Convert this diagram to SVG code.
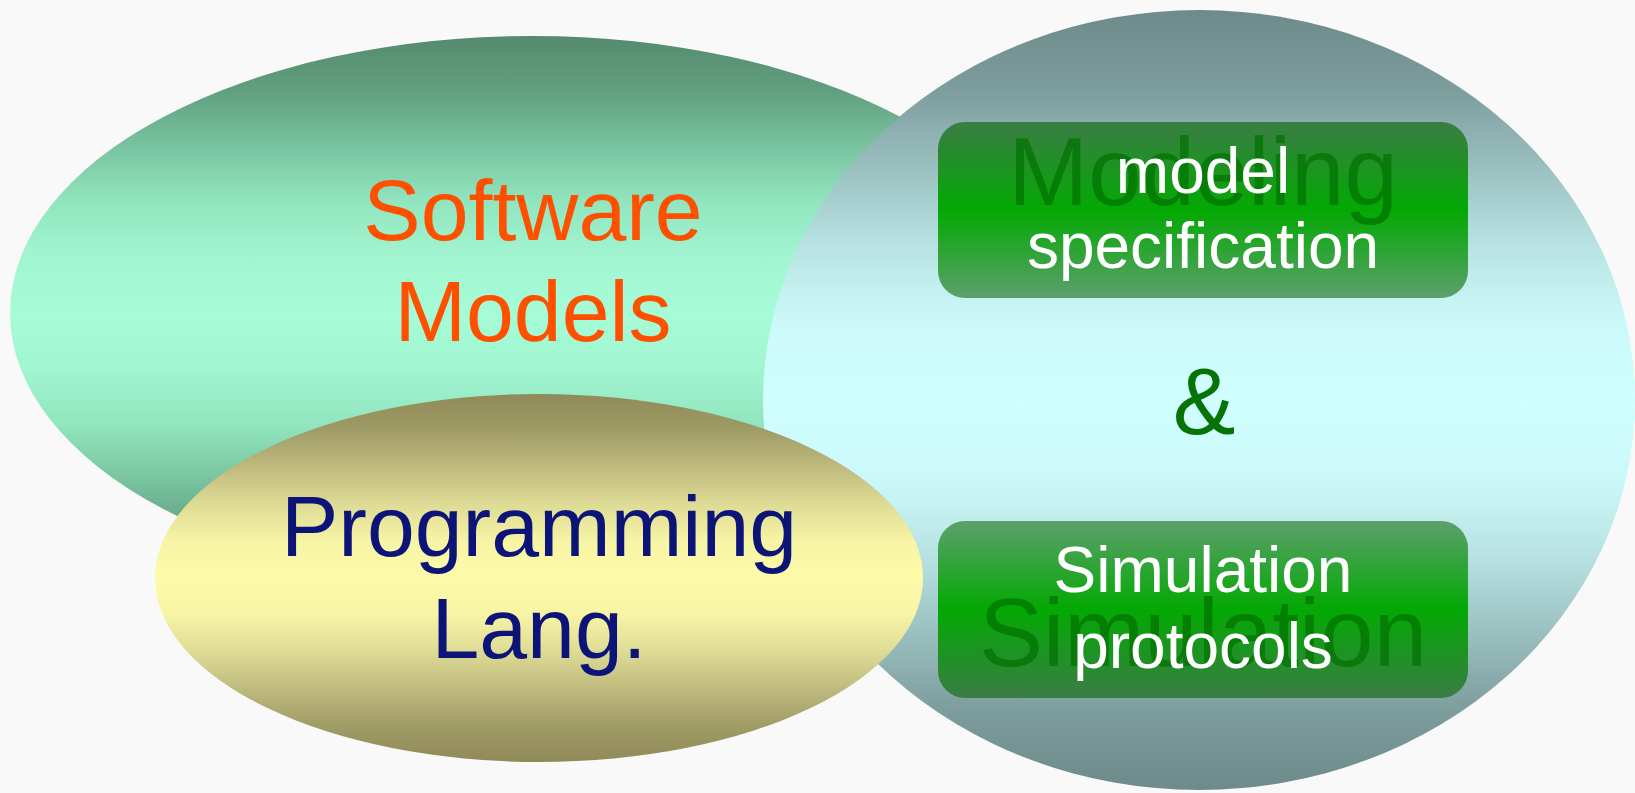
<svg xmlns="http://www.w3.org/2000/svg" width="1635" height="793" viewBox="0 0 1635 793">
  <defs>
    <linearGradient id="gLeft" x1="0" y1="0" x2="0" y2="1">
      <stop offset="0" stop-color="#558a6e"/>
      <stop offset="0.1" stop-color="#61a07f"/>
      <stop offset="0.2" stop-color="#79c3a1"/>
      <stop offset="0.3" stop-color="#91e5bf"/>
      <stop offset="0.4" stop-color="#a1f6d1"/>
      <stop offset="0.5" stop-color="#a6fcd6"/>
      <stop offset="0.6" stop-color="#a1f6d1"/>
      <stop offset="0.7" stop-color="#91e5bf"/>
      <stop offset="0.8" stop-color="#79c3a1"/>
      <stop offset="0.9" stop-color="#61a07f"/>
      <stop offset="1" stop-color="#558a6e"/>
    </linearGradient>
    <linearGradient id="gRight" x1="0" y1="0" x2="0" y2="1">
      <stop offset="0" stop-color="#6e8a8a"/>
      <stop offset="0.1" stop-color="#7d9c9c"/>
      <stop offset="0.2" stop-color="#9abfbf"/>
      <stop offset="0.3" stop-color="#b8e2e2"/>
      <stop offset="0.4" stop-color="#cbf9f9"/>
      <stop offset="0.5" stop-color="#d0ffff"/>
      <stop offset="0.6" stop-color="#cbf9f9"/>
      <stop offset="0.7" stop-color="#b8e2e2"/>
      <stop offset="0.8" stop-color="#9abfbf"/>
      <stop offset="0.9" stop-color="#7d9c9c"/>
      <stop offset="1" stop-color="#6e8a8a"/>
    </linearGradient>
    <linearGradient id="gYellow" x1="0" y1="0" x2="0" y2="1">
      <stop offset="0" stop-color="#8f8a58"/>
      <stop offset="0.1" stop-color="#a09c66"/>
      <stop offset="0.2" stop-color="#bfbb7e"/>
      <stop offset="0.3" stop-color="#dedb96"/>
      <stop offset="0.4" stop-color="#f7f4a5"/>
      <stop offset="0.5" stop-color="#fdfba8"/>
      <stop offset="0.6" stop-color="#f7f4a5"/>
      <stop offset="0.7" stop-color="#dedb96"/>
      <stop offset="0.8" stop-color="#bfbb7e"/>
      <stop offset="0.9" stop-color="#a09c66"/>
      <stop offset="1" stop-color="#8f8a58"/>
    </linearGradient>
    <linearGradient id="gBoxTop" x1="0" y1="0" x2="0" y2="1">
      <stop offset="0" stop-color="#3a7c45"/>
      <stop offset="0.5" stop-color="#03a903"/>
      <stop offset="1" stop-color="#5e9f6d"/>
    </linearGradient>
    <linearGradient id="gBoxBot" x1="0" y1="0" x2="0" y2="1">
      <stop offset="0" stop-color="#5e9f6d"/>
      <stop offset="0.5" stop-color="#03a903"/>
      <stop offset="1" stop-color="#3a7c45"/>
    </linearGradient>
  </defs>
  <style>
    text { font-family: "Liberation Sans", Arial, sans-serif; text-anchor: middle; }
    .big { font-size: 86px; }
    .orange { fill: #ff5000; }
    .navy { fill: #0c1478; }
    .ghost { font-size: 96px; fill: #007000; fill-opacity: 0.7; }
    .white { font-size: 64px; fill: #ffffff; }
    .amp { font-size: 94px; fill: #067306; }
  </style>
  <rect x="0" y="0" width="1635" height="793" fill="#f9f9f9"/>

  <g id="software-models">
    <ellipse cx="532" cy="313" rx="522" ry="277" fill="url(#gLeft)"/>
    <text class="big orange" x="533" y="240">Software</text>
    <text class="big orange" x="533" y="341">Models</text>
  </g>

  <g id="modeling-simulation">
    <ellipse cx="1199" cy="400" rx="436" ry="390" fill="url(#gRight)"/>
    <text class="amp" x="1204" y="434">&amp;</text>
  </g>

  <g id="programming-lang">
    <ellipse cx="539" cy="578" rx="384" ry="184" fill="url(#gYellow)"/>
    <text class="big navy" x="539" y="556">Programming</text>
    <text class="big navy" x="539" y="658">Lang.</text>
  </g>

  <g id="modeling-box">
    <rect x="938" y="122" width="530" height="176" rx="27" ry="27" fill="url(#gBoxTop)"/>
    <text class="ghost" x="1203" y="205">Modeling</text>
    <text class="white" x="1203" y="193">model</text>
    <text class="white" x="1203" y="268">specification</text>
  </g>

  <g id="simulation-box">
    <rect x="938" y="521" width="530" height="177" rx="27" ry="27" fill="url(#gBoxBot)"/>
    <text class="ghost" x="1203" y="666">Simulation</text>
    <text class="white" x="1203" y="592">Simulation</text>
    <text class="white" x="1203" y="668">protocols</text>
  </g>

  <g id="connectors"/>
</svg>
